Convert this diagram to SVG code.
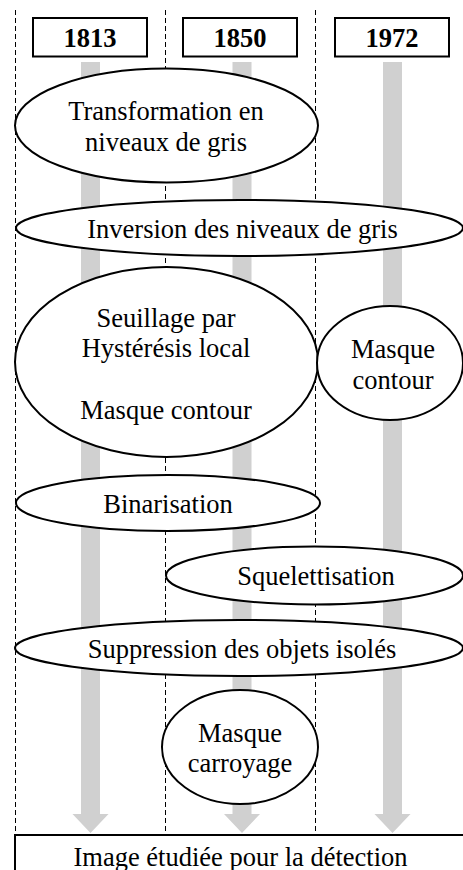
<svg xmlns="http://www.w3.org/2000/svg" width="463" height="870" viewBox="0 0 463 870">
<style>
text{font-family:"Liberation Serif","Times New Roman",serif;font-size:26.5px;fill:#000;text-anchor:middle}
.yr{font-weight:bold}
.box{fill:#fff;stroke:#000;stroke-width:2}
.node{fill:#fff;stroke:#000;stroke-width:2}
.dash{stroke:#000;stroke-width:1;stroke-dasharray:5 3;fill:none}
.bar{fill:#d0d0d0}
</style>
<g id="guides">
<line class="dash" x1="15.5" y1="10" x2="15.5" y2="835"/>
<line class="dash" x1="165.5" y1="10" x2="165.5" y2="835"/>
<line class="dash" x1="315.5" y1="10" x2="315.5" y2="835"/>
</g>
<g id="connectors">
<polygon class="bar" points="81,62 100,62 100,814 108.5,814 90.5,833 72.5,814 81,814"/>
<polygon class="bar" points="232.5,62 251.5,62 251.5,814 260,814 242,833 224,814 232.5,814"/>
<polygon class="bar" points="383,62 402,62 402,814 410.5,814 392.5,833 374.5,814 383,814"/>
</g>
<g id="y1813"><rect class="box" x="33" y="18" width="114" height="38.5"/><text class="yr" x="90" y="46.5">1813</text></g>
<g id="y1850"><rect class="box" x="183" y="18" width="114" height="38.5"/><text class="yr" x="240" y="46.5">1850</text></g>
<g id="y1972"><rect class="box" x="335" y="18" width="114" height="38.5"/><text class="yr" x="392" y="46.5">1972</text></g>
<g id="transformation"><ellipse class="node" cx="166.5" cy="125.5" rx="151.5" ry="57"/><text x="166" y="119.5">Transformation en</text><text x="166" y="150.5">niveaux de gris</text></g>
<g id="inversion"><ellipse class="node" cx="239.5" cy="228" rx="223.5" ry="28"/><text x="242.5" y="237.5">Inversion des niveaux de gris</text></g>
<g id="seuillage"><ellipse class="node" cx="166.5" cy="362" rx="151.5" ry="95"/><text x="166" y="326.5">Seuillage par</text><text x="166" y="356.5">Hystérésis local</text><text x="166" y="418.5">Masque contour</text></g>
<g id="masque-contour"><ellipse class="node" cx="390" cy="363" rx="73" ry="57"/><text x="393" y="357.5">Masque</text><text x="393" y="388.5">contour</text></g>
<g id="binarisation"><ellipse class="node" cx="168" cy="503" rx="152" ry="28"/><text x="168" y="512.5">Binarisation</text></g>
<g id="squelettisation"><ellipse class="node" cx="314.5" cy="575.5" rx="148.5" ry="29"/><text x="316" y="585">Squelettisation</text></g>
<g id="suppression"><ellipse class="node" cx="239" cy="648" rx="224" ry="28"/><text x="242" y="657.5">Suppression des objets isolés</text></g>
<g id="carroyage"><ellipse class="node" cx="240" cy="747" rx="78" ry="57"/><text x="240" y="741.5">Masque</text><text x="240" y="771.5">carroyage</text></g>
<g id="image"><rect class="box" x="15" y="835" width="460" height="50"/><text x="240.5" y="866">Image étudiée pour la détection</text></g>
</svg>
